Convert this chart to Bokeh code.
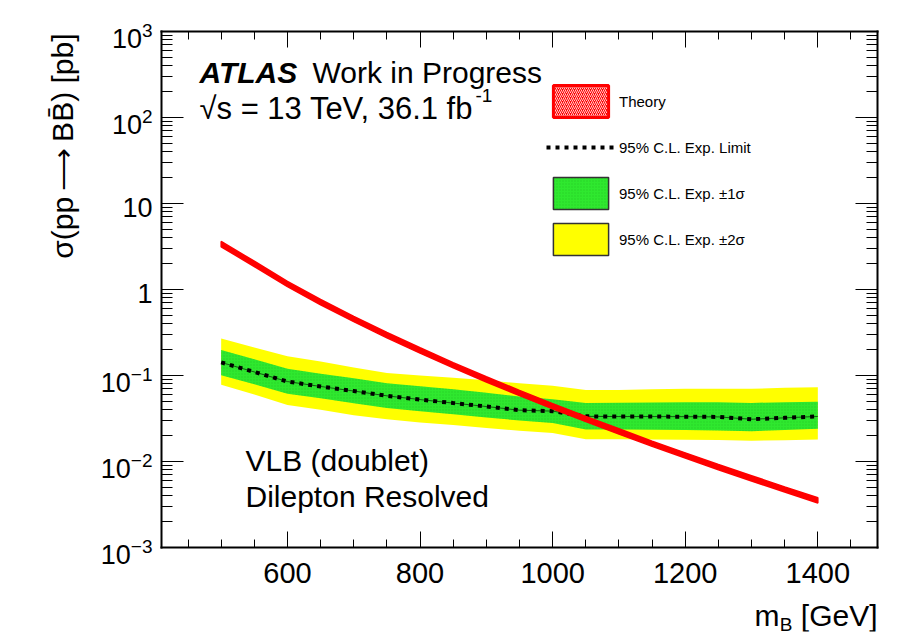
import math
from bokeh.plotting import figure
from bokeh.models import (Label, Legend, LegendItem, LinearAxis, LogAxis, LogTicker, Range1d,
                          SingleIntervalTicker, CustomJSTickFormatter, ColumnDataSource)
from bokeh.embed import file_html
from bokeh.resources import INLINE

# ---------------- data ----------------
mass = [500, 550, 600, 650, 700, 750, 800, 850, 900, 950,
        1000, 1050, 1100, 1150, 1200, 1250, 1300, 1350, 1400]

theory = [3.38, 1.99, 1.16, 0.715, 0.455, 0.295, 0.196, 0.132, 0.0903, 0.0627,
          0.0440, 0.0313, 0.0224, 0.0161, 0.0118, 0.00862, 0.00639, 0.00474, 0.00354]
theory_up = [3.62, 2.13, 1.24, 0.765, 0.487, 0.316, 0.210, 0.141, 0.0966, 0.0671,
             0.0471, 0.0335, 0.0240, 0.0172, 0.0126, 0.00922, 0.00684, 0.00507, 0.00379]
theory_dn = [3.14, 1.85, 1.08, 0.665, 0.423, 0.274, 0.182, 0.123, 0.0840, 0.0583,
             0.0409, 0.0291, 0.0208, 0.0150, 0.0110, 0.00802, 0.00594, 0.00441, 0.00329]

exp_limit = [0.142, 0.110, 0.0850, 0.0745, 0.0660, 0.0580, 0.0525, 0.0478, 0.0436, 0.0395,
             0.0385, 0.0335, 0.0333, 0.0333, 0.0332, 0.0330, 0.0310, 0.0322, 0.0334]
exp_p1 = [0.198, 0.154, 0.120, 0.105, 0.093, 0.0815, 0.075, 0.069, 0.063, 0.057,
          0.0530, 0.0480, 0.0482, 0.0485, 0.0487, 0.0488, 0.0480, 0.0490, 0.0495]
exp_m1 = [0.101, 0.079, 0.0615, 0.0545, 0.0475, 0.0420, 0.0385, 0.0355, 0.0325, 0.0300,
          0.0280, 0.0235, 0.0235, 0.0234, 0.0233, 0.0230, 0.0225, 0.0232, 0.0240]
exp_p2 = [0.269, 0.212, 0.167, 0.145, 0.124, 0.107, 0.100, 0.094, 0.088, 0.081,
          0.076, 0.068, 0.068, 0.069, 0.070, 0.070, 0.070, 0.072, 0.073]
exp_m2 = [0.078, 0.060, 0.0455, 0.0400, 0.0345, 0.0310, 0.0285, 0.0265, 0.0245, 0.0228,
          0.0215, 0.0182, 0.0181, 0.0180, 0.0179, 0.0178, 0.0174, 0.0177, 0.0180]

xtick_values = [600, 800, 1000, 1200, 1400]
xtick_labels = ["600", "800", "1000", "1200", "1400"]
ytick_values = [1e-3, 1e-2, 1e-1, 1, 10, 100, 1000]
ytick_base = ["10", "10", "10", "1", "10", "10", "10"]
ytick_sup = ["\u22123", "\u22122", "\u22121", "", "", "2", "3"]

legend_labels = ["Theory", "95% C.L. Exp. Limit",
                 "95% C.L. Exp. \u00b11\u03c3", "95% C.L. Exp. \u00b12\u03c3"]

# ---------------- geometry ----------------
W, H = 904, 634
MB = 3                                        # bokeh min border
BF_L, BF_R, BF_T, BF_B = MB, W - MB, MB, H - MB   # bokeh frame (canvas px)
FL, FR, FT, FB = 161, 877, 31, 547            # drawn plot frame (canvas px)
X0, X1 = 410, 1490
LY0, LY1 = -3, 3
FONT = "Liberation Sans"
GREEN = "#2fe82f"
YELLOW = "#ffff00"

sx = (X1 - X0) / (FR - FL)
sy = (LY1 - LY0) / (FB - FT)
xr = Range1d(X0 - (FL - BF_L) * sx, X1 + (BF_R - FR) * sx)
yr = Range1d(10 ** (LY0 - (BF_B - FB) * sy), 10 ** (LY1 + (FT - BF_T) * sy))


def dx(px):
    return X0 + (px - FL) * sx


def dy(py):
    return 10 ** (LY1 - (py - FT) * sy)


p = figure(width=W, height=H, x_range=xr, y_range=yr, y_axis_type="log",
           x_axis_location=None, y_axis_location=None,
           output_backend="svg", toolbar_location=None,
           min_border_left=MB, min_border_right=MB, min_border_top=MB, min_border_bottom=MB)
p.xgrid.visible = False
p.ygrid.visible = False
p.background_fill_color = "white"
p.border_fill_color = "white"
p.outline_line_color = None

blank = CustomJSTickFormatter(code="return ''")


def frame_axis(cls, ticker, loc, bounds, major, minor):
    ax = cls(ticker=ticker, fixed_location=loc, bounds=bounds, formatter=blank)
    ax.axis_line_color = "black"
    ax.axis_line_width = 2
    ax.axis_line_cap = "square"
    ax.major_tick_in = major
    ax.major_tick_out = 0
    ax.minor_tick_in = minor
    ax.minor_tick_out = 0
    ax.major_tick_line_color = "black"
    ax.minor_tick_line_color = "black"
    ax.major_tick_line_width = 1
    ax.minor_tick_line_width = 1
    ax.major_label_text_font_size = "1px"
    ax.major_label_text_color = None
    ax.major_label_standoff = 0
    return ax


def xticker():
    return SingleIntervalTicker(interval=200, num_minor_ticks=4)


def yticker():
    return LogTicker(num_minor_ticks=10)


p.add_layout(frame_axis(LinearAxis, xticker(), 10 ** LY0, (X0, X1), 16, 8), "below")
p.add_layout(frame_axis(LinearAxis, xticker(), 10 ** LY1, (X0, X1), 16, 8), "above")
p.add_layout(frame_axis(LogAxis, yticker(), X0, (10 ** LY0, 10 ** LY1), 22, 11), "left")
p.add_layout(frame_axis(LogAxis, yticker(), X1, (10 ** LY0, 10 ** LY1), 22, 11), "right")

# ---------------- bands and lines ----------------
p.varea(x=mass, y1=exp_m2, y2=exp_p2, fill_color=YELLOW)
p.varea(x=mass, y1=exp_m1, y2=exp_p1, fill_color=GREEN,
        hatch_pattern=".", hatch_color="#1aa81a", hatch_alpha=0.35, hatch_scale=3)
p.line(mass, exp_limit, line_color="black", line_width=1, line_alpha=0.6)
exp_r = p.line(mass, exp_limit, line_color="black", line_width=4, line_dash="4 5")

poly_x = mass + mass[::-1]
poly_y = theory_up + theory_dn[::-1]
p.patch(poly_x, poly_y, fill_color="red", line_color="red", line_width=1.5)

# legend swatches: zero-size boxes sitting on the curves (nothing visible in the plot)
sw_src = ColumnDataSource(dict(m=mass, th=theory, lim=exp_limit))
t_leg = p.quad(left="m", right="m", top="th", bottom="th", source=sw_src,
               fill_color="red", hatch_pattern="/", hatch_color="white", hatch_alpha=0.8,
               hatch_scale=4, hatch_weight=1, line_color="red", line_width=3,
               line_cap="butt")
g_leg = p.quad(left="m", right="m", top="lim", bottom="lim", source=sw_src,
               fill_color=GREEN, hatch_pattern=".", hatch_color="#1aa81a",
               hatch_alpha=0.35, hatch_scale=3, line_color="#333333", line_width=1.5,
               line_cap="butt")
y_leg = p.quad(left="m", right="m", top="lim", bottom="lim", source=sw_src,
               fill_color=YELLOW, line_color="#333333", line_width=1.5, line_cap="butt")

legend = Legend(items=[LegendItem(label=legend_labels[0], renderers=[t_leg], index=0),
                       LegendItem(label=legend_labels[1], renderers=[exp_r]),
                       LegendItem(label=legend_labels[2], renderers=[g_leg], index=0),
                       LegendItem(label=legend_labels[3], renderers=[y_leg], index=0)],
                location=(546 - BF_L, BF_B - 259), glyph_width=69, glyph_height=40,
                spacing=6, label_standoff=4, padding=0, margin=0,
                border_line_alpha=0, background_fill_alpha=0,
                label_text_font=FONT, label_text_font_size="15px",
                label_text_color="black")
p.add_layout(legend)


# ---------------- texts (positions = centre of the text line, canvas px) ----------------
def add_text(txt, px, py, size, align="left", style="normal", angle=0.0):
    p.add_layout(Label(x=dx(px), y=dy(py), text=txt, text_font=FONT,
                       text_font_size=f"{size}px", text_align=align,
                       text_baseline="middle", text_font_style=style, angle=angle,
                       text_color="black"))


# x tick labels
for v, lab in zip(xtick_values, xtick_labels):
    p.add_layout(Label(x=v, y=10 ** LY0, text=lab, text_font=FONT, text_font_size="29px",
                       text_align="center", text_baseline="middle", y_offset=-25,
                       text_color="black"))

# y tick labels (10 with superscript exponent)
CW = {"\u2212": 0.584, "1": 0.556, "2": 0.556, "3": 0.556}
SUP = 19
for v, base, sup in zip(ytick_values, ytick_base, ytick_sup):
    if sup:
        supw = sum(CW.get(c, 0.556) for c in sup) * SUP
        xb = dx(152 - supw)
        p.add_layout(Label(x=xb, y=v, text=base, text_font=FONT, text_font_size="27px",
                           text_align="right", text_baseline="middle", y_offset=-7,
                           text_color="black"))
        p.add_layout(Label(x=xb, y=v, text=sup, text_font=FONT,
                           text_font_size=f"{SUP}px", text_align="left",
                           text_baseline="middle", y_offset=1, text_color="black"))
    else:
        p.add_layout(Label(x=dx(152), y=v, text=base, text_font=FONT,
                           text_font_size="27px", text_align="right",
                           text_baseline="middle", y_offset=-4, text_color="black"))

add_text("ATLAS", 199, 72, 30, style="bold italic")
add_text("Work in Progress", 312, 72, 30)
add_text("\u221as = 13 TeV, 36.1 fb", 199, 107.5, 31)
add_text("-1", 475, 95, 19)
add_text("VLB (doublet)", 245, 459.5, 30)
add_text("Dilepton Resolved", 245, 495.5, 30)

# x-axis title  m_B [GeV]
add_text("[GeV]", 877, 614.5, 30, align="right")
add_text("B", 792, 623.5, 19, align="right")
add_text("m", 779, 614.5, 30, align="right")

# y-axis title
add_text("\u03c3(pp\u2009\u27f6\u2009BB\u0304) [pb]", 62, 33, 30, align="right",
         angle=math.pi / 2)

open("out.html", "w").write(file_html(p, INLINE))
